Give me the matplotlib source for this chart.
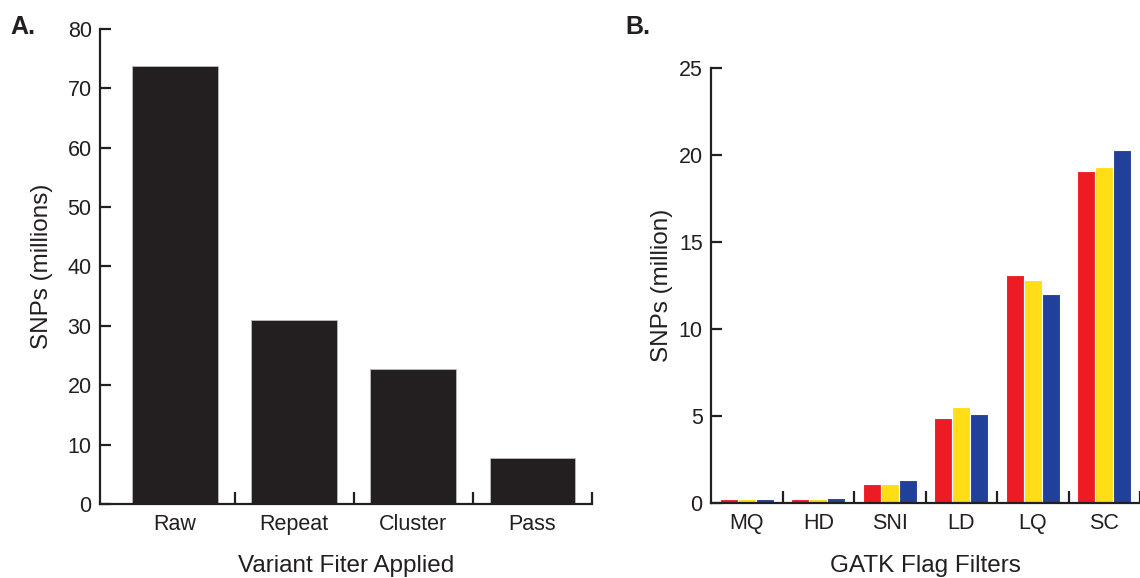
import matplotlib.pyplot as plt
import numpy as np

plt.rcParams['font.family'] = ['Liberation Sans', 'DejaVu Sans']

# panel A
filters_a = ['Raw', 'Repeat', 'Cluster', 'Pass']
snps_a = [73.7, 31.0, 22.8, 7.8]

# panel B
filters_b = ['MQ', 'HD', 'SNI', 'LD', 'LQ', 'SC']
red_vals = [0.2, 0.2, 1.1, 4.9, 13.1, 19.1]
yellow_vals = [0.2, 0.2, 1.1, 5.5, 12.8, 19.3]
blue_vals = [0.2, 0.3, 1.3, 5.1, 12.0, 20.3]

ink = '#231f20'
colors = ['#ed1c24', '#ffde17', '#21409a']


def style_axes(ax, n):
    for side in ['top', 'right']:
        ax.spines[side].set_visible(False)
    for side in ['left', 'bottom']:
        ax.spines[side].set_linewidth(1.6)
        ax.spines[side].set_color(ink)
    ax.tick_params(axis='y', direction='in', length=8, width=1.6,
                   color=ink, labelcolor=ink, labelsize=15.5, pad=6)
    ax.tick_params(axis='x', which='major', length=0, labelcolor=ink,
                   labelsize=15.5, pad=7)
    ax.set_xticks(np.arange(n) + 0.5, minor=True)
    ax.tick_params(axis='x', which='minor', direction='in', length=9,
                   width=1.6, color=ink)


fig = plt.figure(figsize=(11.4, 5.78), dpi=100)

ax1 = fig.add_axes([0.0877, 0.128, 0.4316, 0.822])
x = np.arange(len(filters_a))
ax1.bar(x, snps_a, width=0.72, color=ink, edgecolor='#bdbcbc', linewidth=0.6)
ax1.set_xlim(-0.63, 3.5)
ax1.set_ylim(0, 80)
ax1.set_yticks(np.arange(0, 81, 10))
ax1.set_xticks(x)
ax1.set_xticklabels(filters_a)
style_axes(ax1, len(filters_a))
ax1.set_ylabel('SNPs (millions)', fontsize=17.5, color=ink)
ax1.yaxis.set_label_coords(-0.096, 0.5)
ax1.set_xlabel('Variant Fiter Applied', fontsize=17.5, color=ink)
ax1.xaxis.set_label_coords(0.5, -0.108)

ax2 = fig.add_axes([0.6237, 0.130, 0.3763, 0.752])
xb = np.arange(len(filters_b))
w = 0.25
for i, vals in enumerate([red_vals, yellow_vals, blue_vals]):
    ax2.bar(xb + (i - 1) * w, vals, width=w, color=colors[i],
            edgecolor='white', linewidth=0.8)
ax2.set_xlim(-0.5, 5.43)
ax2.set_ylim(0, 25)
ax2.set_yticks(np.arange(0, 26, 5))
ax2.set_xticks(xb)
ax2.set_xticklabels(filters_b)
style_axes(ax2, len(filters_b))
ax2.set_ylabel('SNPs (million)', fontsize=17.5, color=ink)
ax2.yaxis.set_label_coords(-0.089, 0.5)
ax2.set_xlabel('GATK Flag Filters', fontsize=17.5, color=ink)
ax2.xaxis.set_label_coords(0.5, -0.12)

fig.text(0.009, 0.942, 'A.', fontsize=18, fontweight='bold', color=ink)
fig.text(0.549, 0.942, 'B.', fontsize=18, fontweight='bold', color=ink)

fig.savefig('out.png', dpi=100)
